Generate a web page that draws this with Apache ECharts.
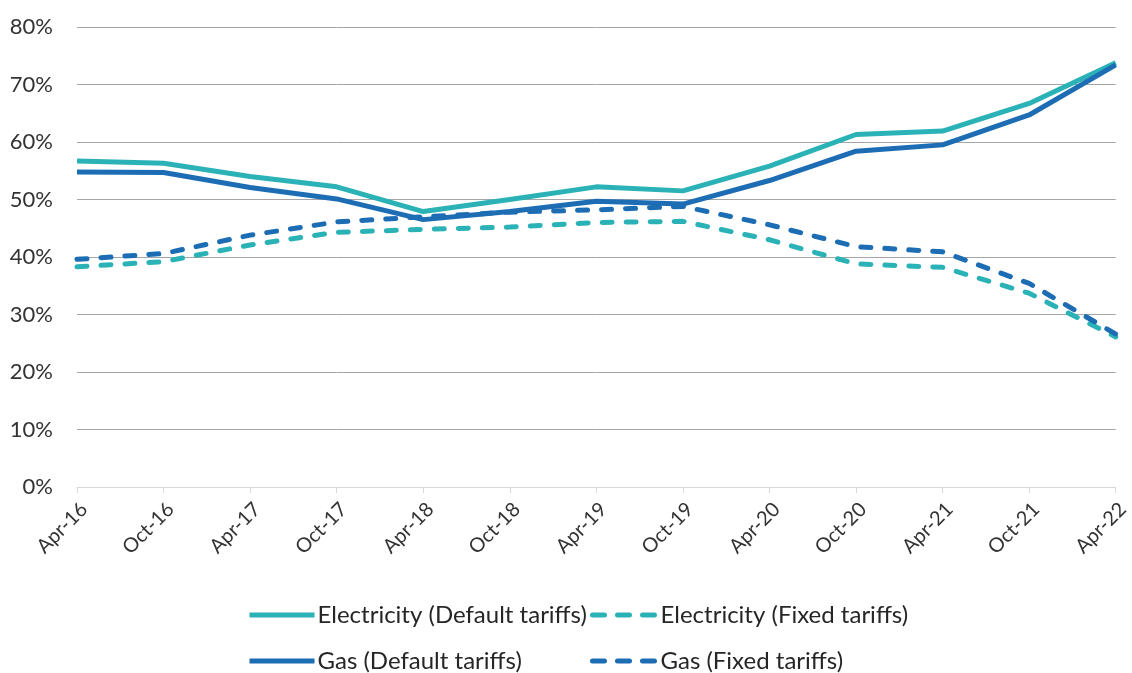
<!DOCTYPE html>
<html>
<head>
<meta charset="utf-8">
<script src="https://cdn.jsdelivr.net/npm/echarts@6/dist/echarts.min.js"></script>
<style>html,body{margin:0;padding:0;background:#fff;}#c{width:1132px;height:673px;}</style>
</head>
<body>
<div id="c"></div>
<script>
const categories = ['Apr-16','Oct-16','Apr-17','Oct-17','Apr-18','Oct-18','Apr-19','Oct-19','Apr-20','Oct-20','Apr-21','Oct-21','Apr-22'];
const elecDefault = [56.7, 56.3, 54.0, 52.2, 47.9, 50.0, 52.2, 51.5, 55.8, 61.3, 61.9, 66.7, 73.8];
const gasDefault  = [54.8, 54.7, 52.1, 50.1, 46.5, 47.9, 49.7, 49.2, 53.3, 58.4, 59.5, 64.7, 73.4];
const elecFixed   = [38.3, 39.2, 42.1, 44.3, 44.8, 45.2, 46.0, 46.2, 43.0, 38.8, 38.2, 33.7, 26.1];
const gasFixed    = [39.6, 40.6, 43.8, 46.1, 47.0, 47.8, 48.2, 48.8, 45.6, 41.8, 40.9, 35.4, 26.6];
const seriesNames = ['Electricity (Default tariffs)','Electricity (Fixed tariffs)','Gas (Default tariffs)','Gas (Fixed tariffs)'];

const TEAL = '#2BB2B7';
const BLUE = '#1C6DB3';
const FONT = 'Lato';
const chart = echarts.init(document.getElementById('c'));

function mkSeries(name, data, color, dashed, z) {
  return {
    name: name, type: 'line', data: data, symbol: 'none', z: z,
    lineStyle: { color: color, width: 5, type: dashed ? [10, 14] : 'solid', cap: dashed ? 'round' : 'butt', join: 'round' },
    itemStyle: { color: color }
  };
}
function mkLegend(name, left, top) {
  return {
    data: [name], left: left, top: top, orient: 'horizontal',
    itemWidth: 65, itemHeight: 20, itemGap: 0, padding: 0,
    itemStyle: { opacity: 0 },
    lineStyle: { width: 5, type: name.indexOf('Fixed') >= 0 ? [12, 13] : 'solid' },
    textStyle: { fontFamily: FONT, fontSize: 24, color: '#262626', padding: [0,0,0,-2] },
    selectedMode: false
  };
}

chart.setOption({
  animation: false,
  backgroundColor: '#fff',
  grid: { left: 77, right: 14, top: 27, bottom: 186 },
  legend: [
    mkLegend(seriesNames[0], 247, 603),
    mkLegend(seriesNames[1], 590, 603),
    mkLegend(seriesNames[2], 247, 649),
    mkLegend(seriesNames[3], 590, 649)
  ],
  xAxis: {
    type: 'category', data: categories, boundaryGap: false,
    axisLine: { lineStyle: { color: '#D9D9D9', width: 1 } },
    axisTick: { show: true, length: 6, lineStyle: { color: '#D9D9D9' } },
    axisLabel: { rotate: 45, fontFamily: FONT, fontSize: 20, color: '#333333', margin: 26, interval: 0, padding: [0, -10, 0, 0] },
    splitLine: { show: false }
  },
  yAxis: {
    type: 'value', min: 0, max: 80, interval: 10,
    axisLine: { show: false }, axisTick: { show: false },
    axisLabel: { formatter: '{value}%', fontFamily: FONT, fontSize: 22, color: '#333333', margin: 24 },
    splitLine: { lineStyle: { color: '#A6A6A6', width: 1 } }
  },
  series: [
    mkSeries(seriesNames[0], elecDefault, TEAL, false, 3),
    mkSeries(seriesNames[1], elecFixed, TEAL, true, 2),
    mkSeries(seriesNames[2], gasDefault, BLUE, false, 4),
    mkSeries(seriesNames[3], gasFixed, BLUE, true, 2)
  ]
});
</script>
</body>
</html>
